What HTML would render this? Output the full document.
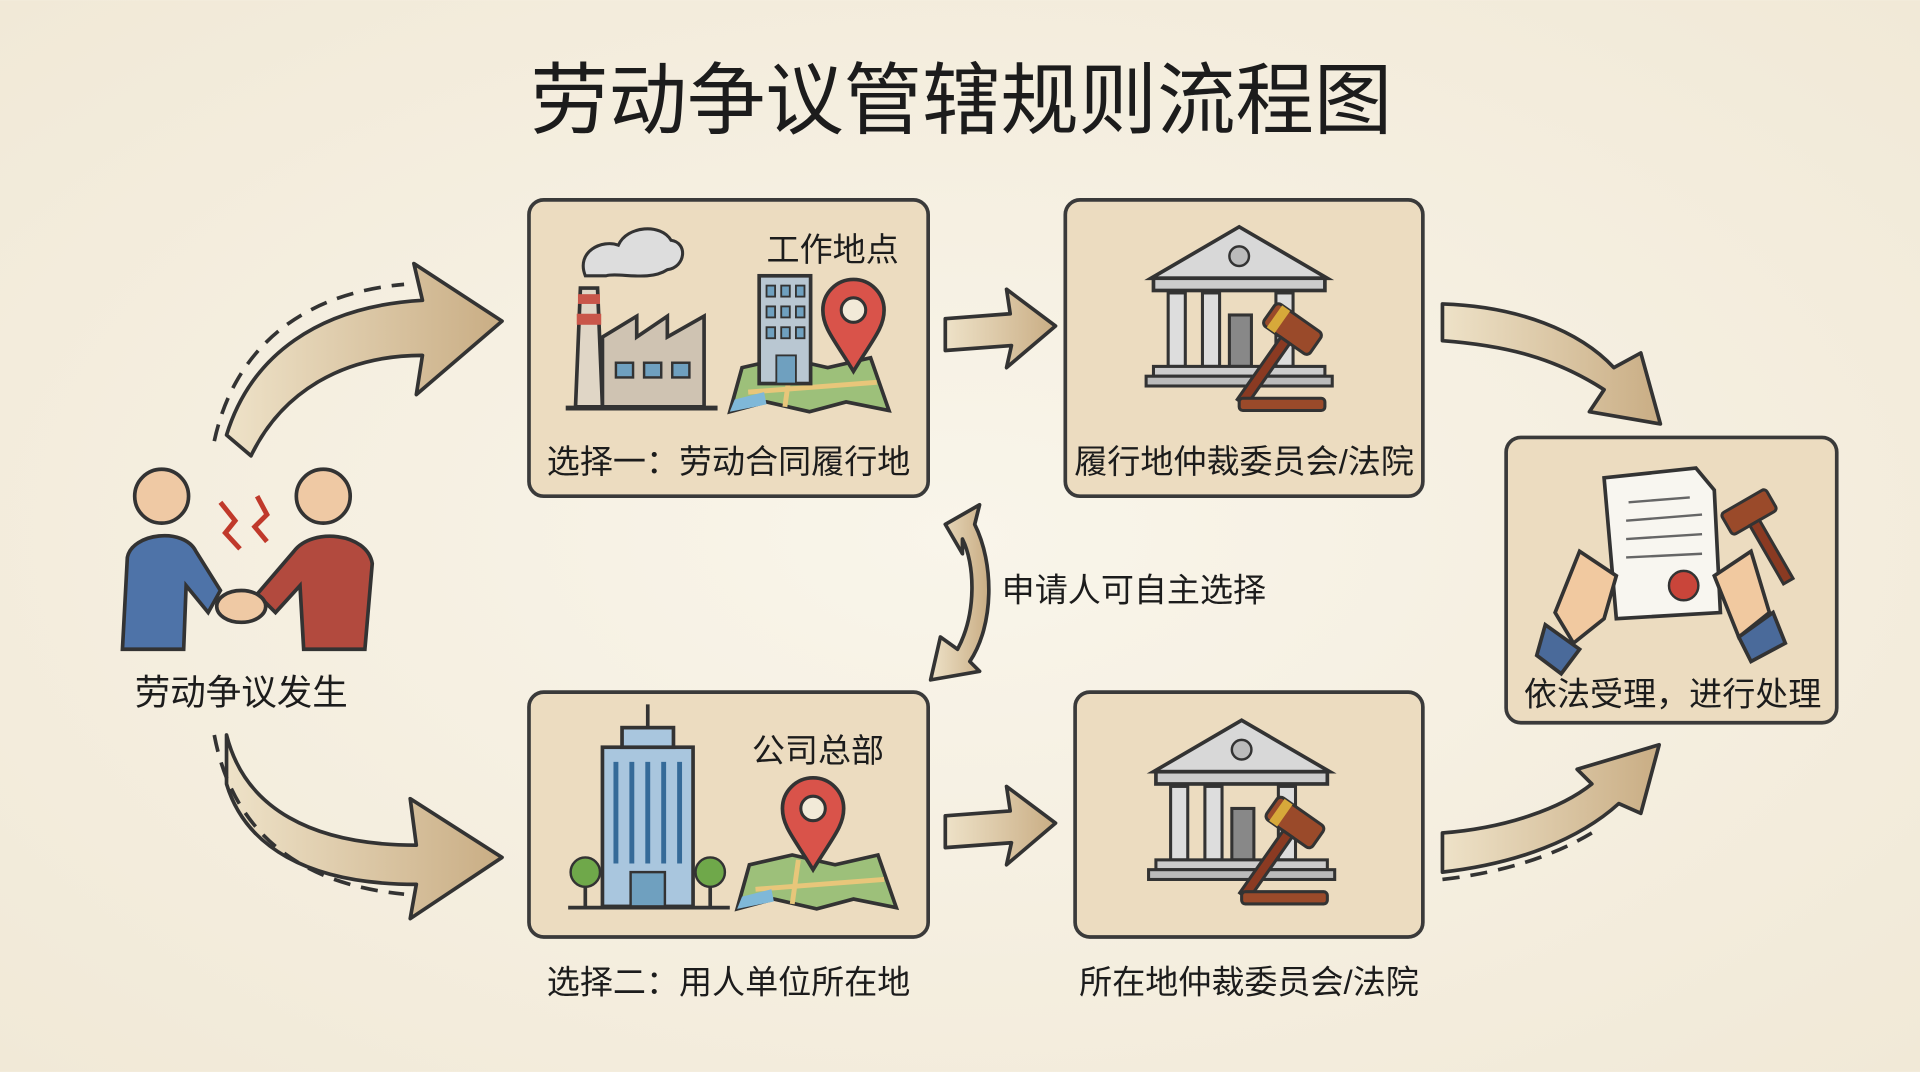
<!DOCTYPE html>
<html><head><meta charset="utf-8"><style>
html,body{margin:0;padding:0;background:#f6f0e2;}
svg{display:block}
text{font-family:"Liberation Sans","Noto Sans CJK SC",sans-serif;fill:#1c1c1c}
</style></head><body>
<svg width="1920" height="1072" viewBox="0 0 1568 875" xmlns="http://www.w3.org/2000/svg">
<defs>
<radialGradient id="bg" cx="50%" cy="50%" r="70%"><stop offset="0" stop-color="#f9f5ea"/><stop offset="1" stop-color="#f1e9d7"/></radialGradient>
<linearGradient id="arr" x1="0" y1="0" x2="1" y2="0"><stop offset="0" stop-color="#eee2c8"/><stop offset="1" stop-color="#c9ad84"/></linearGradient>
<g id="court">
 <polygon points="-72,-10 0,-52 72,-10" fill="#d8d8d8" stroke="#333" stroke-width="3"/>
 <circle cx="0" cy="-28" r="8" fill="#bbb" stroke="#333" stroke-width="2"/>
 <rect x="-70" y="-10" width="140" height="10" fill="#ccc" stroke="#333" stroke-width="3"/>
 <rect x="-58" y="2" width="14" height="60" fill="#ddd" stroke="#333" stroke-width="2.5"/>
 <rect x="-30" y="2" width="14" height="60" fill="#ddd" stroke="#333" stroke-width="2.5"/>
 <rect x="-8" y="20" width="18" height="42" fill="#888" stroke="#333" stroke-width="2.5"/>
 <rect x="30" y="2" width="14" height="60" fill="#ddd" stroke="#333" stroke-width="2.5"/>
 <rect x="-70" y="62" width="140" height="8" fill="#ccc" stroke="#333" stroke-width="2.5"/>
 <rect x="-76" y="70" width="152" height="8" fill="#bbb" stroke="#333" stroke-width="2.5"/>
 <g transform="rotate(35 40 40)"><rect x="15" y="20" width="46" height="22" rx="4" fill="#9a4a2a" stroke="#333" stroke-width="2.5"/><rect x="34" y="42" width="9" height="62" fill="#8a3a22" stroke="#333" stroke-width="2.5"/><rect x="20" y="20" width="8" height="22" fill="#d7a93a"/></g>
 <rect x="0" y="88" width="70" height="10" rx="3" fill="#9a4a2a" stroke="#333" stroke-width="2.5"/>
</g>
<g id="pin"><path d="M0,50 C-15,25 -25,15 -25,0 A25,25 0 1 1 25,0 C25,15 15,25 0,50Z" fill="#d9534a" stroke="#333" stroke-width="3"/><circle r="10" fill="#f2ead8" stroke="#333" stroke-width="2.5"/></g>
<g id="map"><polygon points="0,0 35,-8 70,0 105,-8 120,35 85,28 55,36 20,28 -10,36" fill="#9dc07a" stroke="#333" stroke-width="3"/><path d="M5,20 L110,12 M40,-4 L35,32" stroke="#e8c67a" stroke-width="4" fill="none"/><polygon points="-6,26 18,20 20,30 -10,36" fill="#7fb8d8"/></g>
</defs>
<rect width="1568" height="875" fill="url(#bg)"/>
<text x="785" y="104" font-size="64" text-anchor="middle">劳动争议管辖规则流程图</text>

<g fill="url(#arr)" stroke="#333" stroke-width="3" stroke-linejoin="round">
 <path d="M185,355 C205,290 260,250 345,245 L338,215 L410,262 L340,322 L345,290 C280,290 230,320 205,372 Z"/>
 <path d="M185,600 C200,660 255,690 340,690 L335,652 L410,700 L335,750 L340,722 C250,722 200,690 185,640 Z"/>
 <path d="M772,260 L825,256 L822,236 L862,266 L822,300 L826,282 L772,286 Z"/>
 <path d="M772,666 L825,662 L822,642 L862,672 L822,706 L826,688 L772,692 Z"/>
 <path d="M1178,248 C1240,250 1290,270 1318,300 L1340,288 L1356,346 L1298,336 L1310,318 C1270,292 1230,282 1178,278 Z"/>
 <path d="M1178,680 C1230,676 1275,660 1300,640 L1288,628 L1355,608 L1340,664 L1322,656 C1290,685 1240,705 1178,712 Z"/>
 <path d="M772,428 L800,412 L796,428 C812,460 812,510 792,540 L800,548 L760,555 L768,520 L782,530 C798,500 796,460 786,440 L786,452 Z"/>
</g>
<g fill="none" stroke="#333" stroke-width="3" stroke-dasharray="14 9">
 <path d="M175,360 C190,290 240,240 330,232"/>
 <path d="M175,600 C190,680 245,722 330,730"/>
 <path d="M1178,718 C1230,712 1270,698 1300,680"/>
</g>

<g fill="#ecdcc0" stroke="#3a3a3a" stroke-width="3">
 <rect x="432" y="163" width="326" height="242" rx="12"/>
 <rect x="870" y="163" width="292" height="242" rx="12"/>
 <rect x="432" y="565" width="326" height="200" rx="12"/>
 <rect x="878" y="565" width="284" height="200" rx="12"/>
 <rect x="1230" y="357" width="270" height="233" rx="12"/>
</g>

<path d="M478,225 C470,205 492,195 505,200 C512,184 540,182 548,196 C562,198 560,218 545,220 C530,230 505,222 495,225 Z" fill="#ddd" stroke="#333" stroke-width="2.5"/>
<polygon points="470,332 474,235 488,235 492,332" fill="#e0d6c6" stroke="#333" stroke-width="3"/>
<rect x="472" y="240" width="18" height="8" fill="#c9564a"/><rect x="471" y="256" width="20" height="9" fill="#c9564a"/>
<polygon points="492,332 492,275 520,258 520,275 545,258 545,275 575,258 575,332" fill="#cfc3b2" stroke="#333" stroke-width="3"/>
<rect x="503" y="296" width="14" height="12" fill="#6fa0bf" stroke="#333" stroke-width="2"/><rect x="526" y="296" width="14" height="12" fill="#6fa0bf" stroke="#333" stroke-width="2"/><rect x="549" y="296" width="14" height="12" fill="#6fa0bf" stroke="#333" stroke-width="2"/>
<line x1="462" y1="333" x2="586" y2="333" stroke="#333" stroke-width="4"/>
<use href="#map" x="606" y="300"/>
<rect x="620" y="225" width="42" height="88" fill="#b9c7d2" stroke="#333" stroke-width="3"/>
<g fill="#6fa0bf" stroke="#333" stroke-width="1.5"><rect x="626" y="233" width="7" height="9"/><rect x="638" y="233" width="7" height="9"/><rect x="650" y="233" width="7" height="9"/><rect x="626" y="250" width="7" height="9"/><rect x="638" y="250" width="7" height="9"/><rect x="650" y="250" width="7" height="9"/><rect x="626" y="267" width="7" height="9"/><rect x="638" y="267" width="7" height="9"/><rect x="650" y="267" width="7" height="9"/><rect x="634" y="290" width="16" height="23"/></g>
<use href="#pin" x="697" y="253"/>
<text x="680" y="213" font-size="27" text-anchor="middle">工作地点</text>
<text x="595" y="386" font-size="27" text-anchor="middle">选择一：劳动合同履行地</text>

<use href="#court" x="1012" y="237"/>
<text x="1016" y="386" font-size="27" text-anchor="middle">履行地仲裁委员会/法院</text>

<rect x="492" y="610" width="74" height="130" fill="#a9c6de" stroke="#333" stroke-width="3"/>
<rect x="508" y="594" width="42" height="16" fill="#a9c6de" stroke="#333" stroke-width="3"/>
<line x1="529" y1="575" x2="529" y2="594" stroke="#333" stroke-width="3"/>
<g stroke="#356a98" stroke-width="4"><line x1="503" y1="622" x2="503" y2="705"/><line x1="516" y1="622" x2="516" y2="705"/><line x1="529" y1="622" x2="529" y2="705"/><line x1="542" y1="622" x2="542" y2="705"/><line x1="555" y1="622" x2="555" y2="705"/></g>
<rect x="515" y="712" width="28" height="28" fill="#6fa0bf" stroke="#333" stroke-width="2"/>
<circle cx="478" cy="712" r="12" fill="#6fa84a" stroke="#333" stroke-width="2"/><line x1="478" y1="724" x2="478" y2="740" stroke="#333" stroke-width="3"/>
<circle cx="580" cy="712" r="12" fill="#6fa84a" stroke="#333" stroke-width="2"/><line x1="580" y1="724" x2="580" y2="740" stroke="#333" stroke-width="3"/>
<line x1="464" y1="741" x2="596" y2="741" stroke="#333" stroke-width="3"/>
<use href="#map" x="612" y="706"/>
<use href="#pin" x="664" y="660"/>
<text x="668" y="622" font-size="27" text-anchor="middle">公司总部</text>
<text x="595" y="811" font-size="27" text-anchor="middle">选择二：用人单位所在地</text>

<use href="#court" x="1014" y="640"/>
<text x="1020" y="811" font-size="27" text-anchor="middle">所在地仲裁委员会/法院</text>

<polygon points="1310,390 1385,382 1400,400 1405,500 1320,505" fill="#f8f6f0" stroke="#333" stroke-width="3"/>
<g stroke="#666" stroke-width="2"><line x1="1330" y1="410" x2="1380" y2="406"/><line x1="1328" y1="425" x2="1390" y2="420"/><line x1="1328" y1="440" x2="1390" y2="436"/><line x1="1328" y1="455" x2="1390" y2="452"/></g>
<circle cx="1375" cy="478" r="12" fill="#c9453a" stroke="#333" stroke-width="2"/>
<g transform="rotate(-30 1440 440)"><rect x="1420" y="405" width="42" height="20" rx="3" fill="#9a4a2a" stroke="#333" stroke-width="2.5"/><rect x="1436" y="425" width="9" height="55" fill="#8a3a22" stroke="#333" stroke-width="2.5"/></g>
<path d="M1270,500 L1290,450 L1320,470 L1310,505 L1285,525Z" fill="#f1c9a0" stroke="#333" stroke-width="3"/>
<path d="M1262,510 L1290,530 L1275,550 L1255,535Z" fill="#4a6a9a" stroke="#333" stroke-width="3"/>
<path d="M1400,470 L1430,450 L1445,500 L1420,520Z" fill="#f1c9a0" stroke="#333" stroke-width="3"/>
<path d="M1420,520 L1448,500 L1458,525 L1430,540Z" fill="#4a6a9a" stroke="#333" stroke-width="3"/>
<text x="1366" y="576" font-size="27" text-anchor="middle">依法受理，进行处理</text>

<circle cx="132" cy="405" r="22" fill="#efc9a4" stroke="#333" stroke-width="3"/>
<circle cx="264" cy="405" r="22" fill="#efc9a4" stroke="#333" stroke-width="3"/>
<path d="M100,530 L104,455 C108,435 150,430 160,450 L180,482 L170,500 L152,478 L150,530Z" fill="#4e73a8" stroke="#333" stroke-width="3"/>
<path d="M298,530 L304,460 C300,435 255,430 240,450 L210,485 L225,500 L245,478 L248,530Z" fill="#b24a3e" stroke="#333" stroke-width="3"/>
<ellipse cx="197" cy="495" rx="20" ry="13" fill="#efc9a4" stroke="#333" stroke-width="3"/>
<path d="M180,410 L192,425 L184,435 L196,448 M210,405 L218,420 L208,430 L218,442" stroke="#c0392b" stroke-width="4" fill="none"/>
<text x="197" y="575" font-size="29" text-anchor="middle">劳动争议发生</text>
<text x="926" y="491" font-size="27" text-anchor="middle">申请人可自主选择</text>
</svg>
</body></html>
